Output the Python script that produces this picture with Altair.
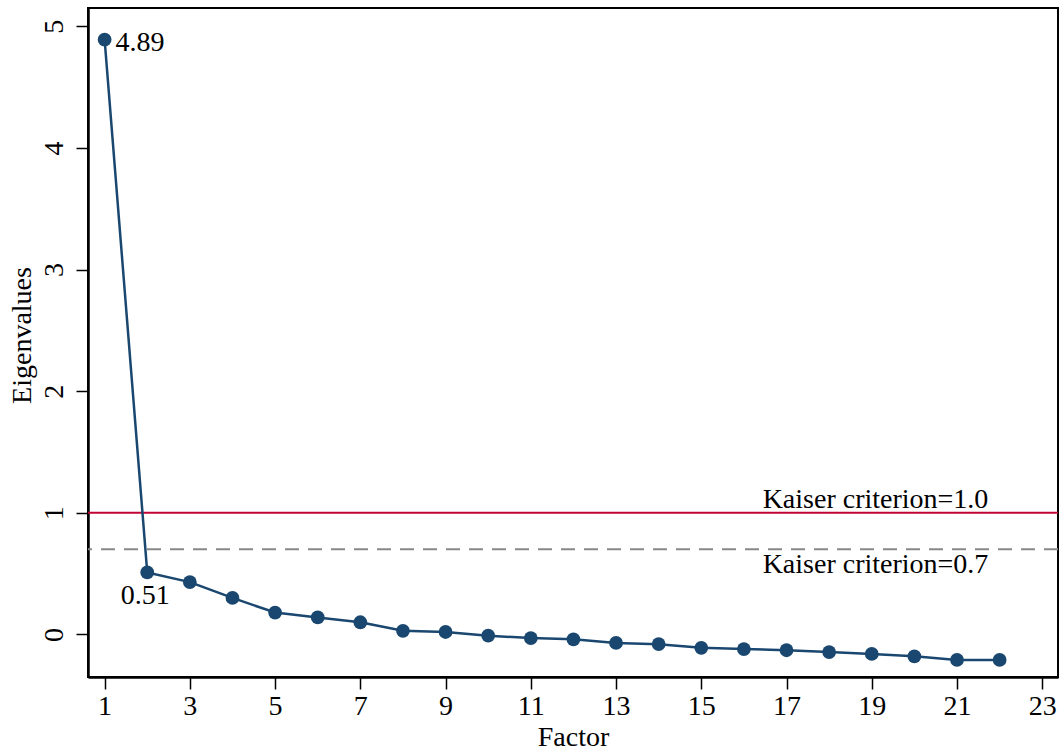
import altair as alt
import pandas as pd

factors = list(range(1, 23))
eigenvalues = [4.89, 0.51, 0.43, 0.30, 0.18, 0.14, 0.10, 0.03, 0.02, -0.01, -0.03,
               -0.04, -0.07, -0.08, -0.11, -0.12, -0.13, -0.145, -0.16, -0.18, -0.21, -0.21]
x_ticks = list(range(1, 24, 2))
y_ticks = [0, 1, 2, 3, 4, 5]

kaiser_values = [1.0, 0.7]
kaiser_labels = ["Kaiser criterion=1.0", "Kaiser criterion=0.7"]
kaiser_label_x = 16.44

df = pd.DataFrame({"factor": factors, "eig": eigenvalues})

FONT = "Liberation Serif"
FS = 28
NAVY = "#1a476f"

xs = alt.Scale(domain=[0.61, 23.37], nice=False, zero=False)
ys = alt.Scale(domain=[-0.35, 5.15], nice=False, zero=False)

x_enc = alt.X("factor:Q", scale=xs, title="Factor",
              axis=alt.Axis(values=x_ticks, format="d", grid=False,
                            labelFontSize=FS, labelFont=FONT, labelColor="black",
                            labelPadding=3, tickSize=12, tickWidth=1.5, tickColor="black",
                            domainColor="black", domainWidth=2.5,
                            titleFontSize=FS, titleFont=FONT, titleFontWeight="normal",
                            titleColor="black", titleY=68, titleBaseline="alphabetic"))
y_enc = alt.Y("eig:Q", scale=ys, title="Eigenvalues",
              axis=alt.Axis(values=y_ticks, format="d", grid=False,
                            labelFontSize=FS, labelFont=FONT, labelColor="black",
                            labelAngle=270, labelAlign="center", labelBaseline="alphabetic",
                            labelPadding=14, tickSize=12, tickWidth=1.5, tickColor="black",
                            domainColor="black", domainWidth=2.5,
                            titleFontSize=FS, titleFont=FONT, titleFontWeight="normal",
                            titleColor="black", titleAngle=270, titleX=-58, titleY=327,
                            titleBaseline="alphabetic", titleAlign="center"))

base = alt.Chart(df)

line = base.mark_line(color=NAVY, strokeWidth=2.5).encode(x=x_enc, y=y_enc)
pts = base.mark_circle(color=NAVY, size=190, opacity=1).encode(x="factor:Q", y="eig:Q")

kdf = pd.DataFrame({"k": kaiser_values, "lab": kaiser_labels, "x": [kaiser_label_x] * 2})

rule1 = alt.Chart(kdf[kdf["k"] == 1.0]).mark_rule(color="#c10534", strokeWidth=2).encode(y="k:Q")
rule2 = alt.Chart(kdf[kdf["k"] == 0.7]).mark_rule(color="#888888", strokeWidth=2,
                                                   strokeDash=[14, 9]).encode(y="k:Q")

t1 = alt.Chart(kdf[kdf["k"] == 1.0]).mark_text(font=FONT, fontSize=FS, align="left",
                                                baseline="alphabetic", dy=-5, color="black").encode(
    x="x:Q", y="k:Q", text="lab:N")
t2 = alt.Chart(kdf[kdf["k"] == 0.7]).mark_text(font=FONT, fontSize=FS, align="left",
                                                baseline="alphabetic", dy=24, color="black").encode(
    x="x:Q", y="k:Q", text="lab:N")

lab_first = alt.Chart(df.iloc[[0]]).mark_text(font=FONT, fontSize=FS, align="left",
                                              baseline="middle", dx=11, dy=3, color="black").encode(
    x="factor:Q", y="eig:Q", text=alt.Text("eig:Q", format=".2f"))
lab_second = alt.Chart(df.iloc[[1]]).mark_text(font=FONT, fontSize=FS, align="center",
                                               baseline="middle", dx=-2, dy=24, color="black").encode(
    x="factor:Q", y="eig:Q", text=alt.Text("eig:Q", format=".2f"))

chart = alt.layer(rule1, rule2, line, pts, t1, t2, lab_first, lab_second).properties(
    width=970, height=669,
    autosize=alt.AutoSizeParams(type="none"),
    padding={"left": 88, "top": 8, "right": 2, "bottom": 75},
    background="white",
).configure_view(stroke="black", strokeWidth=2).configure_axis(labelOverlap=False)

chart.save("out.html", embed_options={"renderer": "svg", "actions": False})
